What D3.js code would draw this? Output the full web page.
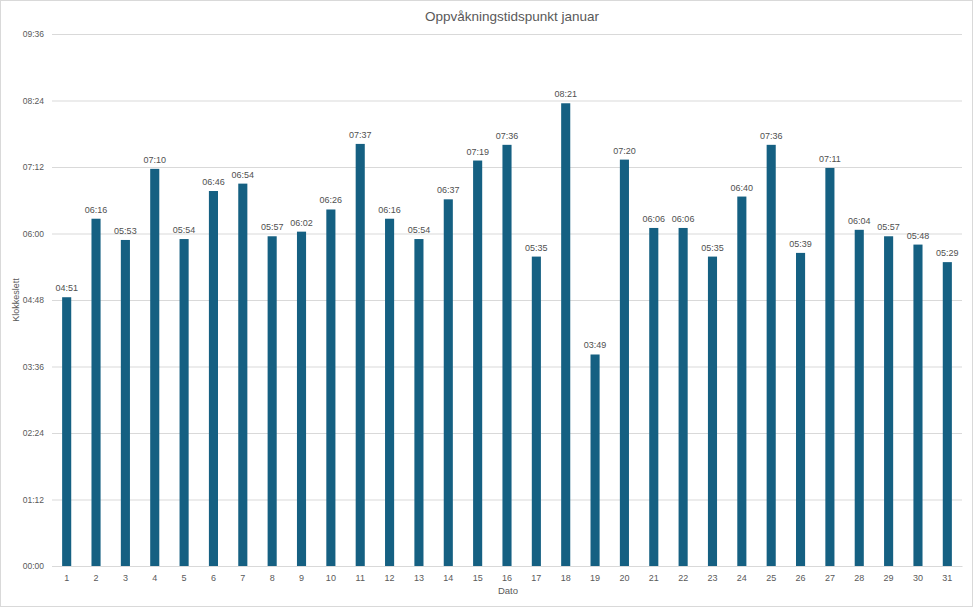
<!DOCTYPE html>
<html><head><meta charset="utf-8">
<script src="https://cdn.jsdelivr.net/npm/d3@7"></script>
<style>body{margin:0;background:#fff}svg{display:block}text{font-family:"Liberation Sans",Arial,sans-serif}</style>
</head><body><svg id="c" width="973" height="607"></svg>
<script>
const days = d3.range(1, 32).map(String);
const wakeTimes = ["04:51","06:16","05:53","07:10","05:54","06:46","06:54","05:57","06:02","06:26","07:37","06:16","05:54","06:37","07:19","07:36","05:35","08:21","03:49","07:20","06:06","06:06","05:35","06:40","07:36","05:39","07:11","06:04","05:57","05:48","05:29"];
const yTicks = ["00:00","01:12","02:24","03:36","04:48","06:00","07:12","08:24","09:36"];
const title = "Oppvåkningstidspunkt januar";
const xTitle = "Dato", yTitle = "Klokkeslett";

const toMin = s => { const [h, m] = s.split(":").map(Number); return h * 60 + m; };
const svg = d3.select("#c");
const W = 973, H = 607, L = 52, R = 962, T = 34, B = 566;
svg.append("rect").attr("x", 0.5).attr("y", 0.5).attr("width", W - 1).attr("height", H - 1).attr("fill", "#fff").attr("stroke", "#d9d9d9");

const x = d3.scaleBand().domain(days).range([L, R]).paddingInner(0.69).paddingOuter(0.345);
const y = d3.scaleLinear().domain([0, toMin("09:36")]).range([B, T]);

const yAxis = d3.axisLeft(y).tickValues(yTicks.map(toMin)).tickFormat((d, i) => yTicks[i]).tickSize(-(R - L)).tickPadding(8);
const gy = svg.append("g").attr("transform", `translate(${L},0)`).call(yAxis);
gy.select(".domain").remove();
gy.selectAll("line").attr("stroke", "#d9d9d9");
gy.selectAll("text").attr("fill", "#595959").attr("font-size", 8.5);

const xAxis = d3.axisBottom(x).tickSize(0).tickPadding(9);
const gx = svg.append("g").attr("transform", `translate(0,${B})`).call(xAxis);
gx.select(".domain").attr("stroke", "#d9d9d9");
gx.selectAll("text").attr("fill", "#595959").attr("font-size", 9);

svg.append("g").selectAll("rect").data(wakeTimes).join("rect")
  .attr("x", (d, i) => x(days[i])).attr("width", x.bandwidth())
  .attr("y", d => y(toMin(d))).attr("height", d => B - y(toMin(d)))
  .attr("fill", "#156082");

svg.append("g").selectAll("text").data(wakeTimes).join("text")
  .attr("x", (d, i) => x(days[i]) + x.bandwidth() / 2).attr("y", d => y(toMin(d)) - 6)
  .attr("text-anchor", "middle").attr("font-size", 9).attr("fill", "#505050").text(d => d);

svg.append("text").attr("x", (L + R) / 2 + 5).attr("y", 21).attr("text-anchor", "middle")
  .attr("font-size", 13.5).attr("fill", "#595959").text(title);
svg.append("text").attr("x", (L + R) / 2 + 1).attr("y", 594).attr("text-anchor", "middle")
  .attr("font-size", 9.5).attr("fill", "#595959").text(xTitle);
svg.append("text").attr("transform", `translate(19,${(T + B) / 2}) rotate(-90)`).attr("text-anchor", "middle")
  .attr("font-size", 9).attr("fill", "#595959").text(yTitle);
</script></body></html>
